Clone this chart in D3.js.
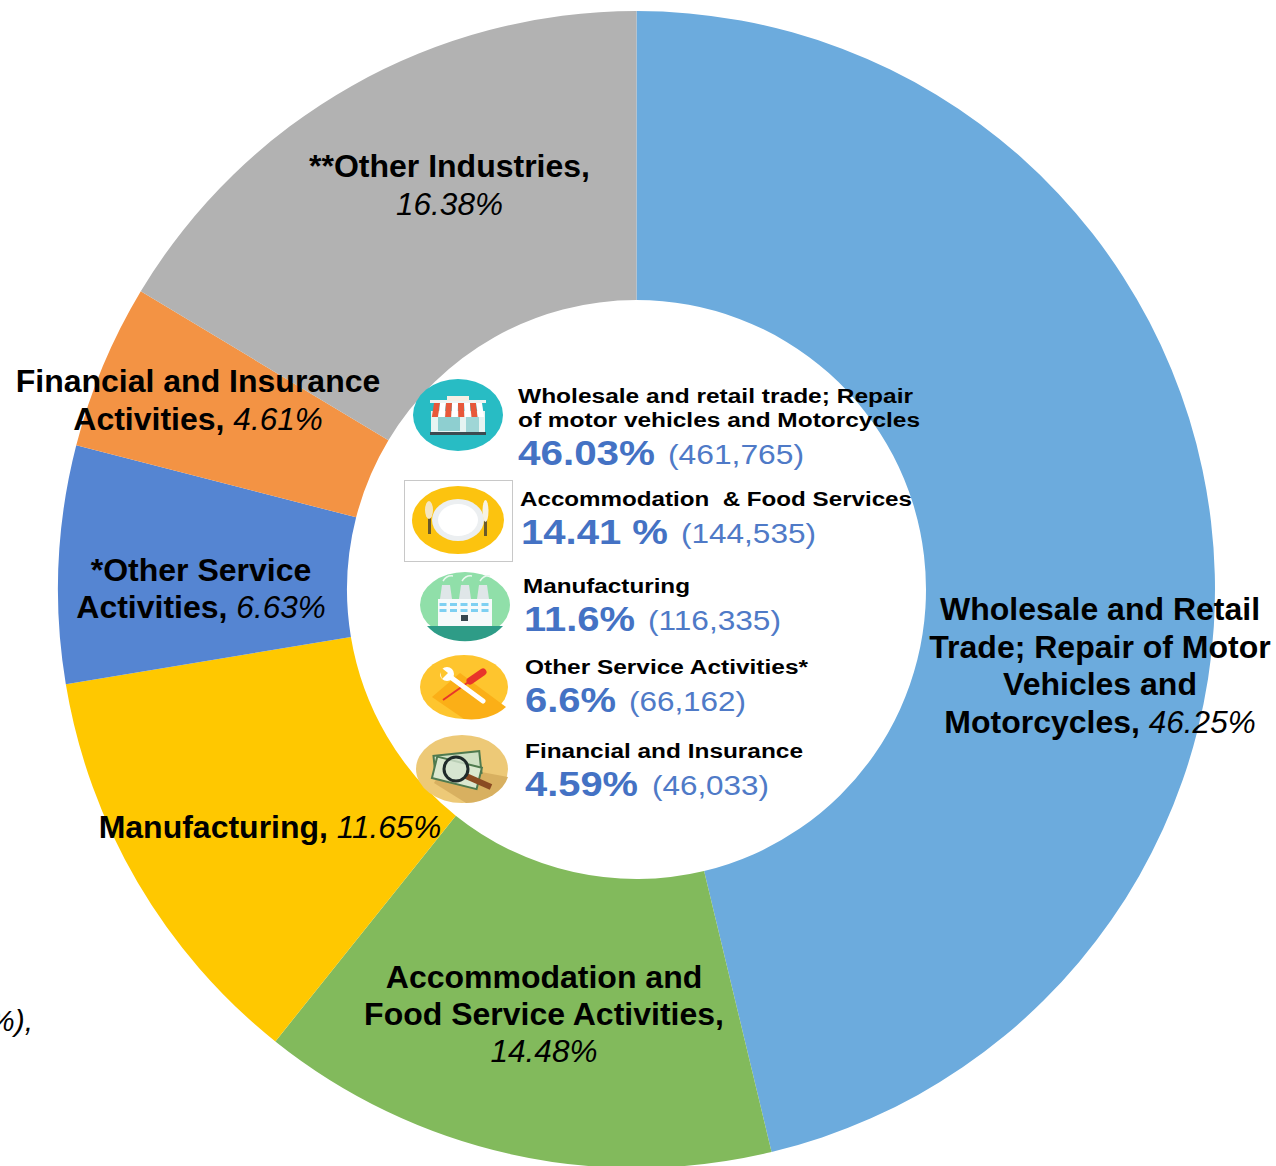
<!DOCTYPE html>
<html>
<head>
<meta charset="utf-8">
<script src="https://cdn.jsdelivr.net/npm/d3@7"></script>
<style>
  html, body { margin: 0; padding: 0; background: #fff; }
  svg { display: block; }
  text { font-family: "Liberation Sans", Arial, sans-serif; }
</style>
</head>
<body>
<div id="chart"></div>
<script>
// ring data
const industries = ["Wholesale and Retail Trade", "Accommodation and Food Service Activities", "Manufacturing", "*Other Service Activities", "Financial and Insurance Activities", "**Other Industries"];
const shares = [46.25, 14.48, 11.65, 6.63, 4.61, 16.38];
const colors = ["#6cabdd", "#82ba5c", "#ffc800", "#5585d2", "#f39344", "#b2b2b2"];

// ring labels, one entry per line: [bold part, italic part]
const ringLabels = [
  [["Wholesale and Retail", ""], ["Trade; Repair of Motor", ""], ["Vehicles and", ""], ["Motorcycles, ", "46.25%"]],
  [["Accommodation and", ""], ["Food Service Activities,", ""], ["", "14.48%"]],
  [["Manufacturing, ", "11.65%"]],
  [["*Other Service", ""], ["Activities, ", "6.63%"]],
  [["Financial and Insurance", ""], ["Activities, ", "4.61%"]],
  [["**Other Industries,", ""], ["", "16.38%"]]
];

// panel in the hole
const panelNames = [
  ["Wholesale and retail trade; Repair", "of motor vehicles and Motorcycles"],
  ["Accommodation  & Food Services"],
  ["Manufacturing"],
  ["Other Service Activities*"],
  ["Financial and Insurance"]
];
const panelPercents = ["46.03%", "14.41 %", "11.6%", "6.6%", "4.59%"];
const panelCounts = ["(461,765)", "(144,535)", "(116,335)", "(66,162)", "(46,033)"];

const width = 1276, height = 1166;
const cx = 636.5, cy = 589.5, outerR = 578.5, innerR = 289.5;

const svg = d3.select("#chart").append("svg")
  .attr("width", width)
  .attr("height", height);

const pie = d3.pie().sort(null).value(d => d);
const arc = d3.arc().innerRadius(innerR).outerRadius(outerR);

svg.append("g")
  .attr("transform", `translate(${cx},${cy})`)
  .selectAll("path")
  .data(pie(shares))
  .join("path")
  .attr("d", arc)
  .attr("fill", (d, i) => colors[i])
  .append("title")
  .text((d, i) => industries[i]);

// label anchors: centre x and first baseline, and line gap
const labelLayout = [
  {x: 1100, y: 620, gap: 37.5},
  {x: 544, y: 988, gap: 37},
  {x: 270, y: 838, gap: 37},
  {x: 201, y: 581, gap: 37},
  {x: 198, y: 392, gap: 38},
  {x: 449.5, y: 177, gap: 38}
];

ringLabels.forEach(function(lines, i) {
  const pos = labelLayout[i];
  lines.forEach(function(line, j) {
    const t = svg.append("text")
      .attr("x", pos.x)
      .attr("y", pos.y + j * pos.gap)
      .attr("text-anchor", "middle")
      .style("font-size", "32px")
      .style("fill", "#000")
      .attr("xml:space", "preserve");
    t.append("tspan").style("font-weight", "bold").text(line[0]);
    t.append("tspan").style("font-style", "italic").style("font-size", "31.5px").text(line[1]);
  });
});

// cut off label at the left edge of the picture
svg.append("text")
  .attr("x", 33)
  .attr("y", 1031)
  .attr("text-anchor", "end")
  .style("font-size", "30px")
  .style("font-style", "italic")
  .text("%),");

// panel text layout: widths follow the stretched text in the picture
const panelLayout = [
  {nameX: [518, 518], nameY: [403, 427], nameW: [395, 402], pctX: 518, pctY: 465, pctW: 137, countX: 668, countW: 136},
  {nameX: [520], nameY: [506], nameW: [392], pctX: 521, pctY: 544, pctW: 147, countX: 681, countW: 135},
  {nameX: [523], nameY: [593], nameW: [167], pctX: 524, pctY: 631, pctW: 111, countX: 648, countW: 133},
  {nameX: [525], nameY: [674], nameW: [283], pctX: 525, pctY: 712, pctW: 91, countX: 629, countW: 117},
  {nameX: [525], nameY: [758], nameW: [278], pctX: 525, pctY: 796, pctW: 113, countX: 652, countW: 117}
];

function stretched(x, y, w, size, str) {
  return svg.append("text")
    .attr("x", x)
    .attr("y", y)
    .attr("textLength", w)
    .attr("lengthAdjust", "spacingAndGlyphs")
    .attr("xml:space", "preserve")
    .style("font-size", size + "px")
    .text(str);
}

panelNames.forEach(function(names, i) {
  const p = panelLayout[i];
  names.forEach(function(n, j) {
    stretched(p.nameX[j], p.nameY[j], p.nameW[j], 19.5, n)
      .style("font-weight", "bold")
      .style("fill", "#000");
  });
  stretched(p.pctX, p.pctY, p.pctW, 35, panelPercents[i])
    .style("font-weight", "bold")
    .style("fill", "#4472c4");
  stretched(p.countX, p.pctY - 1, p.countW, 28, panelCounts[i])
    .style("fill", "#4f7ac7");
});

// icons
function iconBase(x, y, rx, ry, fill) {
  const g = svg.append("g").attr("transform", `translate(${x},${y})`);
  g.append("ellipse").attr("rx", rx).attr("ry", ry).attr("fill", fill);
  return g;
}
function box(g, x, y, w, h, fill) {
  return g.append("rect").attr("x", x).attr("y", y).attr("width", w).attr("height", h).attr("fill", fill);
}

// shop
const shop = iconBase(458, 415, 45, 36, "#28bcc4");
box(shop, -27, -4, 54, 21, "#e6f4f2");
box(shop, -20, 2, 22, 14, "#8ecfd0");
box(shop, 8, 2, 13, 15, "#9fd6d6");
box(shop, -28, 17, 56, 3, "#3b4a50");
box(shop, -28, -15, 56, 3, "#eef4f2");
box(shop, -11, -19, 22, 5, "#f7efe4");
for (let k = 0; k < 8; k++) {
  shop.append("path")
    .attr("d", `M${-24 + k * 6},-12 h6 l${(k - 3.5) * 0.6},14 h-6 z`)
    .attr("fill", k % 2 ? "#fff" : "#e8583a");
}

// plate, sits on a white card with a thin border
svg.append("rect").attr("x", 404.5).attr("y", 480.5).attr("width", 108).attr("height", 81)
  .attr("fill", "#fff").attr("stroke", "#c8c8c8");
const plate = iconBase(458, 520, 46, 34, "#fcc30f");
plate.append("ellipse").attr("rx", 26).attr("ry", 21).attr("fill", "#eceff1");
plate.append("ellipse").attr("rx", 20).attr("ry", 16).attr("fill", "#fff");
box(plate, -30, -2, 3, 16, "#6b5a2a");
plate.append("ellipse").attr("cx", -29).attr("cy", -10).attr("rx", 4).attr("ry", 9).attr("fill", "#f5e6c0");
box(plate, 26, 0, 3, 16, "#6b5a2a");
plate.append("ellipse").attr("cx", 27.5).attr("cy", -9).attr("rx", 3).attr("ry", 11).attr("fill", "#f7f2e4");

// factory
const factory = iconBase(465, 605, 45, 33, "#90dfa9");
factory.append("path")
  .attr("d", "M-38,21 H38 A45,33 0 0 1 -38,21 Z")
  .attr("fill", "#2e9c87");
[-19, 0, 18].forEach(function(dx) {
  factory.append("path").attr("d", `M${dx - 4},-20 h8 l2,14 h-12 z`).attr("fill", "#dfe6e8");
  factory.append("path").attr("d", `M${dx - 3},-24 q4,-6 10,-5`).attr("fill", "none").attr("stroke", "#e9f7ee").attr("stroke-width", 1.5);
});
box(factory, -27, -6, 54, 27, "#f6fafb");
[-22, -11.5, -1, 9.5, 20].forEach(function(dx) {
  box(factory, dx - 3.5, -2, 7, 3, "#7fd0f2");
  box(factory, dx - 3.5, 4, 7, 3, "#7fd0f2");
});
box(factory, -4, 10, 7, 6, "#37474f");

// tools
const tools = iconBase(464, 687, 44, 32, "#fec52e");
tools.append("path").attr("d", "M-4,-14 L42,20 A44,32 0 0 1 0,32 L-32,10 Z").attr("fill", "#fbaf17");
tools.append("line").attr("x1", -21).attr("y1", 13).attr("x2", 6).attr("y2", -6).attr("stroke", "#e8352a").attr("stroke-width", 2);
tools.append("line").attr("x1", 6).attr("y1", -6).attr("x2", 19).attr("y2", -15).attr("stroke", "#e8352a").attr("stroke-width", 7).attr("stroke-linecap", "round");
tools.append("line").attr("x1", -15).attr("y1", -11).attr("x2", 19).attr("y2", 14).attr("stroke", "#fff").attr("stroke-width", 5).attr("stroke-linecap", "round");
tools.append("circle").attr("cx", -17).attr("cy", -13).attr("r", 7).attr("fill", "#fff");
tools.append("path").attr("d", "M-26,-22 L-16,-14 L-22,-8 Z").attr("fill", "#fec52e");

// money
const money = iconBase(462, 769, 46, 34, "#edc977");
money.append("path").attr("d", "M-18,-4 L46,8 A46,34 0 0 1 4,34 L-28,14 Z").attr("fill", "#d8b060");
money.append("rect").attr("x", -27).attr("y", -16).attr("width", 46).attr("height", 22)
  .attr("fill", "#cfe0c4").attr("stroke", "#4f7a4f").attr("stroke-width", 2).attr("transform", "rotate(-6)");
money.append("rect").attr("x", -27).attr("y", -6).attr("width", 46).attr("height", 22)
  .attr("fill", "#dbe8d0").attr("stroke", "#4f7a4f").attr("stroke-width", 2).attr("transform", "rotate(14)");
money.append("line").attr("x1", 4).attr("y1", 7).attr("x2", 29).attr("y2", 18).attr("stroke", "#8a4b22").attr("stroke-width", 6);
money.append("circle").attr("cx", -6).attr("cy", 0).attr("r", 12).attr("fill", "#d5e4d0").attr("fill-opacity", 0.8).attr("stroke", "#1f2a2a").attr("stroke-width", 3);
</script>
</body>
</html>
